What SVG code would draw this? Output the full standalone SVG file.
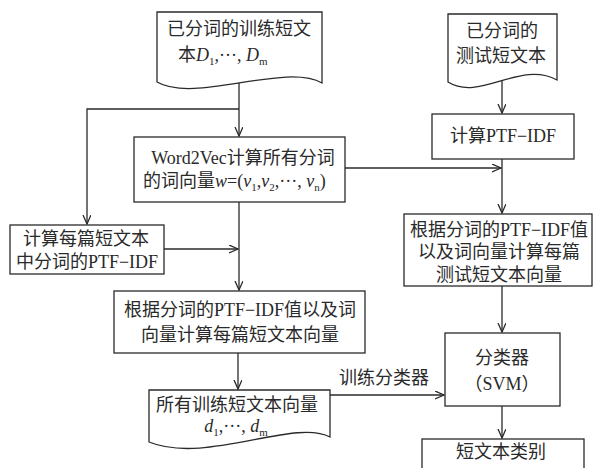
<svg xmlns="http://www.w3.org/2000/svg" width="595" height="468" viewBox="0 0 595 468">
<style>
.box{fill:#fff;stroke:#2a2a2a;stroke-width:1.3}
.ln{fill:none;stroke:#2a2a2a;stroke-width:1.3}
text{font-family:"Liberation Serif","Noto Sans CJK SC",serif;font-size:18px;fill:#2a2a2a}
.c{text-anchor:middle}
.i{font-style:italic}
.s{font-size:11px}
</style>
<defs>
<marker id="ah" viewBox="0 0 10 10" refX="9" refY="4" markerWidth="10" markerHeight="10" markerUnits="userSpaceOnUse" orient="auto">
<path d="M0,0 L9,4 L0,8" fill="none" stroke="#2a2a2a" stroke-width="1.3"/>
</marker>
</defs>
<g id="connectors">
<path class="ln" d="M239,83 V136" marker-end="url(#ah)"/>
<path class="ln" d="M239,109 H87 V224" marker-end="url(#ah)"/>
<path class="ln" d="M239,202 V290" marker-end="url(#ah)"/>
<path class="ln" d="M164,249 H238" marker-end="url(#ah)"/>
<path class="ln" d="M502,80 V113" marker-end="url(#ah)"/>
<path class="ln" d="M502,159 V213" marker-end="url(#ah)"/>
<path class="ln" d="M345,168 H501" marker-end="url(#ah)"/>
<path class="ln" d="M502,286 V332" marker-end="url(#ah)"/>
<path class="ln" d="M238,353 V389" marker-end="url(#ah)"/>
<path class="ln" d="M330,395 H444" marker-end="url(#ah)"/>
<path class="ln" d="M502,406 V438" marker-end="url(#ah)"/>
</g>
<g id="train-doc">
<path class="box" d="M157,12 H322 V83 C285,62 195,104 157,82 Z"/>
<text x="167" y="35">已分词的训练短文</text>
<text x="178" y="61">本<tspan class="i">D</tspan><tspan class="s" dy="4">1</tspan><tspan dy="-4">,···, </tspan><tspan class="i">D</tspan><tspan class="s" dy="4">m</tspan></text>
</g>
<g id="test-doc">
<path class="box" d="M448,14 H557 V80 C520,60 480,102 448,82 Z"/>
<text class="c" x="502" y="37">已分词的</text>
<text class="c" x="501" y="62">测试短文本</text>
</g>
<g id="word2vec">
<rect class="box" x="134" y="137" width="211" height="65"/>
<text class="c" x="243" y="164">Word2Vec计算所有分词</text>
<text x="143" y="187">的词向量<tspan class="i">w</tspan>=(<tspan class="i">v</tspan><tspan class="s" dy="4">1</tspan><tspan dy="-4">,</tspan><tspan class="i">v</tspan><tspan class="s" dy="4">2</tspan><tspan dy="-4">,···, </tspan><tspan class="i">v</tspan><tspan class="s" dy="4">n</tspan><tspan dy="-4">)</tspan></text>
</g>
<g id="calc-ptf-idf">
<rect class="box" x="432" y="114" width="142" height="45"/>
<text class="c" x="503" y="142">计算PTF−IDF</text>
</g>
<g id="calc-each">
<rect class="box" x="10" y="225" width="154" height="49"/>
<text class="c" x="86" y="245">计算每篇短文本</text>
<text class="c" x="87" y="268">中分词的PTF−IDF</text>
</g>
<g id="train-vec">
<rect class="box" x="114" y="291" width="251" height="62"/>
<text class="c" x="240" y="316">根据分词的PTF−IDF值以及词</text>
<text class="c" x="240" y="341">向量计算每篇短文本向量</text>
</g>
<g id="test-vec">
<rect class="box" x="404" y="214" width="188" height="72"/>
<text class="c" x="499" y="236">根据分词的PTF−IDF值</text>
<text class="c" x="499" y="258">以及词向量计算每篇</text>
<text class="c" x="499" y="281">测试短文本向量</text>
</g>
<g id="all-vec">
<path class="box" d="M149,390 H330 V437 C295,418 205,465 149,442 Z"/>
<text class="c" x="237" y="411">所有训练短文本向量</text>
<text class="c" x="236" y="432"><tspan class="i">d</tspan><tspan class="s" dy="4">1</tspan><tspan dy="-4">,···, </tspan><tspan class="i">d</tspan><tspan class="s" dy="4">m</tspan></text>
</g>
<g id="train-label">
<text class="c" x="384" y="384">训练分类器</text>
</g>
<g id="classifier">
<rect class="box" x="445" y="333" width="115" height="73"/>
<text class="c" x="502" y="364">分类器</text>
<text class="c" x="502" y="390">（SVM）</text>
</g>
<g id="result">
<rect class="box" x="422" y="439" width="162" height="40"/>
<text class="c" x="501" y="458">短文本类别</text>
</g>
</svg>
